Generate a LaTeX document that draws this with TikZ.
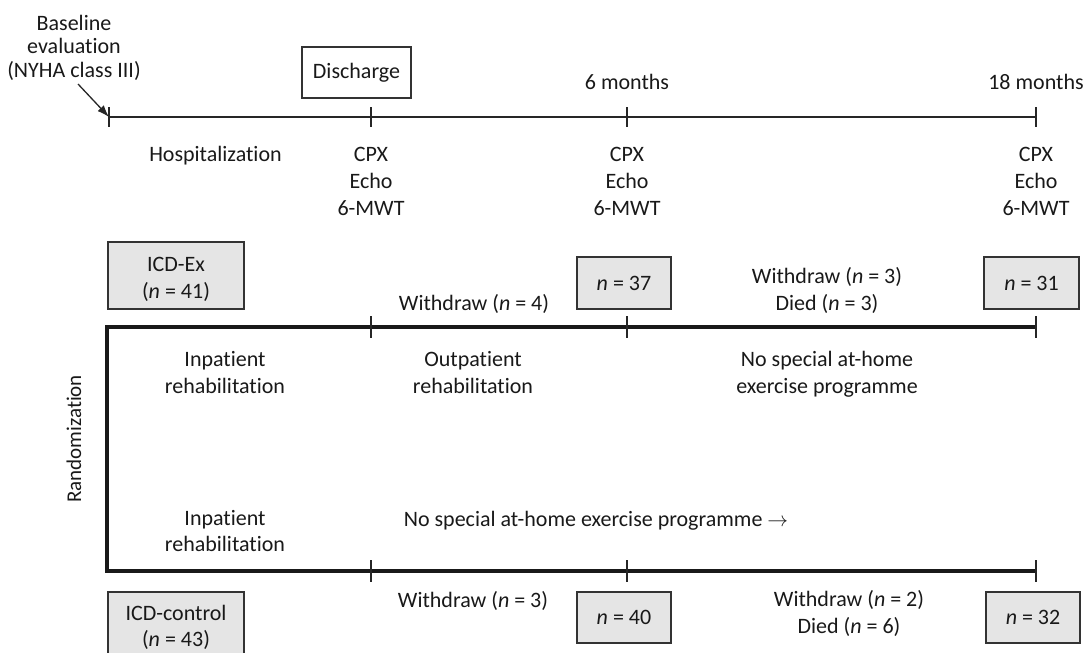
\documentclass[tikz,border=0pt]{standalone}
\usepackage{fontspec}
\setmainfont{Carlito}[Ligatures=NoCommon]
\usetikzlibrary{arrows.meta}
\begin{document}
\begin{tikzpicture}[x=1pt,y=-1pt,
  txt/.style={font=\fontsize{22}{26.5}\selectfont, inner sep=0pt, align=center, text=black!90},
  gbox/.style={draw=black!80, line width=1.3pt, fill=black!10, inner sep=0pt},
  wbox/.style={draw=black!80, line width=1.3pt, fill=white, inner sep=0pt},
  tline/.style={line width=1.3pt, draw=black!85},
  thickline/.style={line width=3.2pt, draw=black!90, line join=miter},
]
\useasboundingbox (0,0) rectangle (1090,653);

% ---------------- top timeline ----------------
\coordinate (t0) at (109,117);
\coordinate (t1) at (371,117);
\coordinate (t2) at (627,117);
\coordinate (t3) at (1036,117);
\draw[tline] (t0) -- (t3);
\foreach \c in {t0,t1,t2,t3} \draw[tline] (\c) ++(0,-10) -- ++(0,20);

\node[txt, anchor=base, font=\fontsize{22}{23.5}\selectfont] (baseline) at (74,77) {Baseline\\evaluation\\(NYHA class III)};
\coordinate (arrs) at (78,84);
\draw[tline, -{Latex[length=12pt,width=8.5pt]}] (arrs) -- (t0);

\node[wbox, txt, minimum width=109pt, minimum height=51pt] (discharge) at (356.5,72.5) {Discharge};
\node[txt, anchor=base] (m6) at (627,89) {6 months};
\node[txt, anchor=base] (m18) at (1036,89) {18 months};

\node[txt, anchor=base] (hosp) at (215.5,161) {Hospitalization};
\node[txt, anchor=base, font=\fontsize{22}{27}\selectfont] (ex1) at (371,215) {CPX\\Echo\\6-MWT};
\node[txt, anchor=base, font=\fontsize{22}{27}\selectfont] (ex2) at (627,215) {CPX\\Echo\\6-MWT};
\node[txt, anchor=base, font=\fontsize{22}{27}\selectfont] (ex3) at (1036,215) {CPX\\Echo\\6-MWT};

% ---------------- upper group (ICD-Ex) ----------------
\node[gbox, minimum width=136pt, minimum height=67pt] (icdex) at (176,275.5) {};
\node[txt, anchor=base] (icdexlbl) at (176,298.2) {ICD-Ex\\(\textit{n} = 41)};
\node[txt, anchor=base] (wd4) at (474,310) {Withdraw (\textit{n} = 4)};
\node[gbox, txt, minimum width=94pt, minimum height=52pt] (n37) at (624,283) {\textit{n} = 37};
\node[txt, anchor=base] (wd3up) at (827,310) {Withdraw (\textit{n} = 3)\\Died (\textit{n} = 3)};
\node[gbox, txt, minimum width=95pt, minimum height=52pt] (n31) at (1031.5,283) {\textit{n} = 31};

\coordinate (u0) at (107,327);
\coordinate (u1) at (371,327);
\coordinate (u2) at (627,327);
\coordinate (u3) at (1036,327);
\coordinate (l0) at (107,571);
\coordinate (l1) at (371,571);
\coordinate (l2) at (627,571);
\coordinate (l3) at (1036,571);
\draw[thickline] (u3) -- (u0) -- (l0) -- (l3);
\foreach \c in {u1,u2,u3,l1,l2,l3} \draw[tline] (\c) ++(0,-11) -- ++(0,22);

\node[txt, anchor=base] (inpat1) at (225,393) {Inpatient\\rehabilitation};
\node[txt, anchor=base] (outpat) at (473,393) {Outpatient\\rehabilitation};
\node[txt, anchor=base] (nospec1) at (827,393) {No special at-home\\exercise programme};

\node[txt, rotate=90, font=\fontsize{21}{25}\selectfont] (rand) at (74,439) {Randomization};

% ---------------- lower group (ICD-control) ----------------
\node[txt, anchor=base] (inpat2) at (225,551.5) {Inpatient\\rehabilitation};
\node[txt, anchor=base] (nospec2) at (596,526) {No special at-home exercise programme $\rightarrow$};

\node[gbox, minimum width=136pt, minimum height=67pt] (icdctl) at (176,625.5) {};
\node[txt, anchor=base] (icdctllbl) at (176,646.5) {ICD-control\\(\textit{n} = 43)};
\node[txt, anchor=base] (wd3lo) at (473,607) {Withdraw (\textit{n} = 3)};
\node[gbox, txt, minimum width=94pt, minimum height=51pt] (n40) at (624,617.5) {\textit{n} = 40};
\node[txt, anchor=base] (wd2lo) at (849,633) {Withdraw (\textit{n} = 2)\\Died (\textit{n} = 6)};
\node[gbox, txt, minimum width=94pt, minimum height=51pt] (n32) at (1033,617.5) {\textit{n} = 32};
\end{tikzpicture}
\end{document}
